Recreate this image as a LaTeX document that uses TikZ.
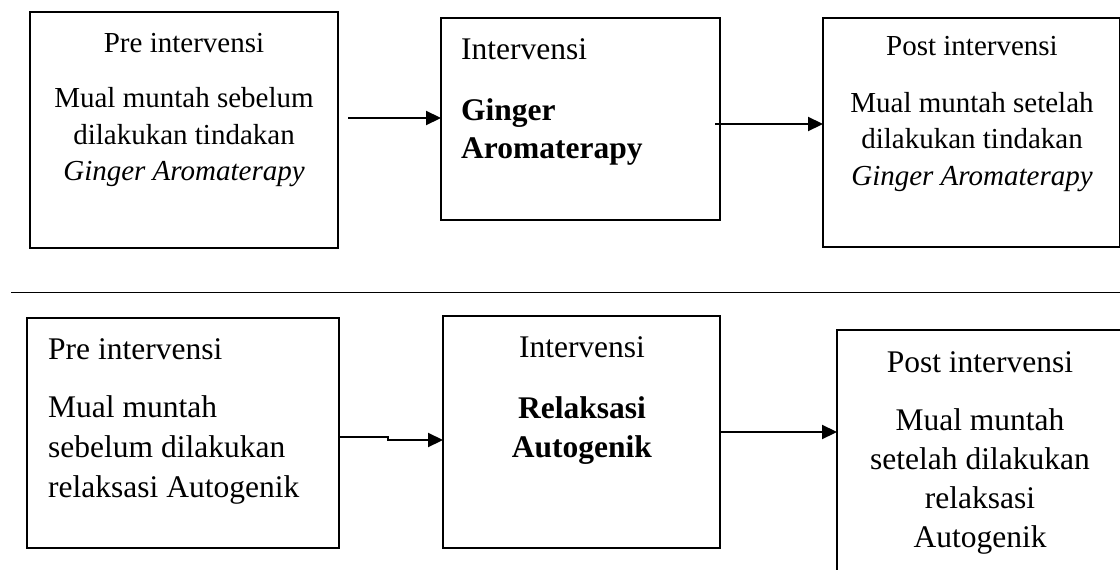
\documentclass[tikz,border=0pt]{standalone}
\usepackage{fontspec}
\setmainfont{Liberation Serif}
\usetikzlibrary{arrows.meta}
\tikzset{
  boxA/.style={draw, line width=2.4pt, inner sep=0pt, outer sep=0pt},
  boxB/.style={draw, line width=1.5pt, inner sep=0pt, outer sep=0pt},
  arr/.style={line width=2.2pt, -{Triangle[length=15pt,width=14pt]}},
  sm/.style={inner sep=0pt, anchor=base, font=\fontsize{29}{36}\selectfont},
  lg/.style={inner sep=0pt, anchor=base, font=\fontsize{31.5}{39}\selectfont},
  lgw/.style={lg, anchor=base west},
}
\begin{document}
\begin{tikzpicture}[x=1pt,y=-1pt]
\clip (0,0) rectangle (1120,570);
% top row boxes
\node[boxA, minimum width=308pt, minimum height=236pt] (b1) at (184,130) {};
\node[boxA, minimum width=279pt, minimum height=202pt] (b2) at (580.5,119) {};
\node[boxA, minimum width=297pt, minimum height=229pt] (b3) at (971.5,132.5) {};
% box 1 text
\node[sm] (t1) at (184,52) {Pre intervensi};
\node[sm] (l1a) at (184,107) {Mual muntah sebelum};
\node[sm] (l1b) at (184,144) {dilakukan tindakan};
\node[sm] (l1c) at (184,180) {\itshape Ginger Aromaterapy};
% box 2 text
\node[lgw] (t2) at (461,59) {Intervensi};
\node[lgw] (l2a) at (461,120) {\bfseries Ginger};
\node[lgw] (l2b) at (461,158) {\bfseries Aromaterapy};
% box 3 text
\node[sm] (t3) at (972,55) {Post intervensi};
\node[sm] (l3a) at (972,112) {Mual muntah setelah};
\node[sm] (l3b) at (972,148) {dilakukan tindakan};
\node[sm] (l3c) at (972,185) {\itshape Ginger Aromaterapy};
% top arrows
\coordinate (a1s) at (348,118);
\draw[arr] (a1s) -- (a1s -| b2.west);
\coordinate (a2s) at (715,124);
\draw[arr] (a2s) -- (a2s -| b3.west);
% separator
\coordinate (sepL) at (11,292.5);
\coordinate (sepR) at (1120,292.5);
\draw[line width=1.4pt] (sepL) -- (sepR);
% bottom row boxes
\node[boxB, minimum width=312pt, minimum height=230pt] (b4) at (183,433) {};
\node[boxB, minimum width=277pt, minimum height=232pt] (b5) at (581.5,432) {};
\node[boxB, minimum width=286pt, minimum height=260pt] (b6) at (980,460) {};
% box 4 text
\node[lgw] (t4) at (48,359) {Pre intervensi};
\node[lgw] (l4a) at (48,417) {Mual muntah};
\node[lgw] (l4b) at (48,457) {sebelum dilakukan};
\node[lgw] (l4c) at (48,497) {relaksasi Autogenik};
% box 5 text
\node[lg] (t5) at (582,357) {Intervensi};
\node[lg] (l5a) at (582,418) {\bfseries Relaksasi};
\node[lg] (l5b) at (582,457) {\bfseries Autogenik};
% box 6 text
\node[lg] (t6) at (980,372) {Post intervensi};
\node[lg] (l6a) at (980,430) {Mual muntah};
\node[lg] (l6b) at (980,469) {setelah dilakukan};
\node[lg] (l6c) at (980,508) {relaksasi};
\node[lg] (l6d) at (980,547) {Autogenik};
% bottom arrows
\coordinate (a3s) at (338,437);
\coordinate (a3k) at (388,437);
\draw[arr] (a3s) -- (a3k) -- ++(0,3) -- (a3k |- 0,440 -| b5.west);
\draw[arr] (b5.east) -- (b5.east -| b6.west);
\end{tikzpicture}
\end{document}
